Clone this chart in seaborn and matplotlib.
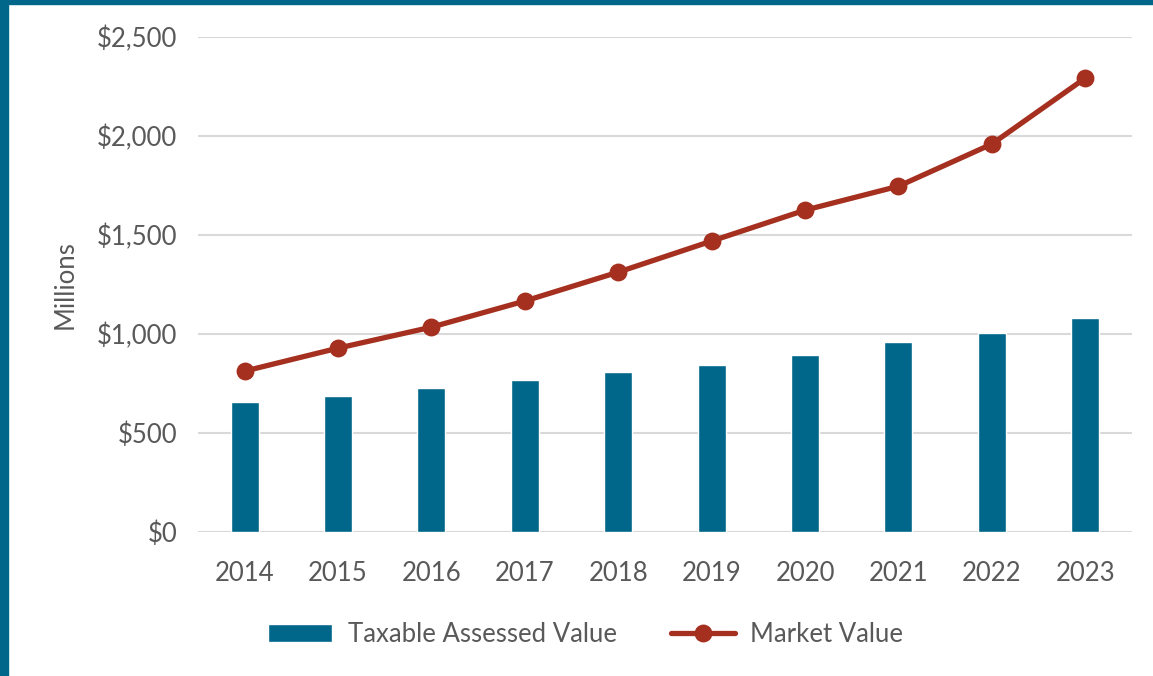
import pandas as pd
import seaborn as sns
import matplotlib.pyplot as plt
from matplotlib.patches import Rectangle
from matplotlib.ticker import FuncFormatter

# dados (milhões de dólares)
anos = ["2014", "2015", "2016", "2017", "2018", "2019", "2020", "2021", "2022", "2023"]
taxable_assessed = [657, 687, 727, 768, 808, 843, 894, 960, 1005, 1081]
market_value = [813, 929, 1035, 1167, 1313, 1470, 1626, 1747, 1960, 2293]

df = pd.DataFrame({"ano": anos, "taxable": taxable_assessed, "market": market_value})

cor_barra = "#00678A"
cor_linha = "#A5301F"
cor_texto = "#595959"
cor_grade = "#D9D9D9"

sns.set_theme(style="white")
plt.rcParams["font.family"] = ["Lato", "DejaVu Sans"]

fig = plt.figure(figsize=(11.53, 6.76), dpi=100)
fig.patch.set_facecolor("white")
ax = fig.add_axes([0.1717, 0.213, 0.81, 0.732])

sns.barplot(data=df, x="ano", y="taxable", color=cor_barra, width=0.3,
            saturation=1, ax=ax, label="Taxable Assessed Value", zorder=3)
sns.pointplot(data=df, x="ano", y="market", color=cor_linha, markers="o",
              markersize=10, linewidth=3.8, ax=ax, label="Market Value")
for col in ax.collections:
    col.set_zorder(5)
for ln in ax.lines:
    ln.set_zorder(4)

ax.set_ylim(0, 2500)
ax.set_xlim(-0.5, 9.5)
ax.set_yticks([0, 500, 1000, 1500, 2000, 2500])
ax.yaxis.set_major_formatter(FuncFormatter(lambda v, p: f"${v:,.0f}"))
ax.grid(axis="y", color=cor_grade, linewidth=1.5, zorder=0)
ax.set_axisbelow(True)
sns.despine(ax=ax, left=True, bottom=True)
ax.tick_params(axis="both", length=0, labelsize=18.5, labelcolor=cor_texto)
ax.tick_params(axis="y", pad=15)
ax.tick_params(axis="x", pad=21)
ax.set_xlabel("")
ax.set_ylabel("Millions", fontsize=18.5, color=cor_texto, labelpad=14)

handles, labels = ax.get_legend_handles_labels()
ordem = [labels.index("Taxable Assessed Value"), labels.index("Market Value")]
ax.legend([handles[i] for i in ordem], [labels[i] for i in ordem],
          loc="upper center", bbox_to_anchor=(0.415, -0.135), ncol=2, frameon=False,
          fontsize=18.5, labelcolor=cor_texto, handlelength=2.5, columnspacing=2.1,
          handletextpad=0.6)

# moldura azul à esquerda e no topo
fig.patches.append(Rectangle((0, 0), 8 / 1153, 1, transform=fig.transFigure,
                             color=cor_barra, zorder=0))
fig.patches.append(Rectangle((0, 1 - 4 / 676), 1, 4 / 676, transform=fig.transFigure,
                             color=cor_barra, zorder=0))

fig.savefig("out.png", dpi=100)
